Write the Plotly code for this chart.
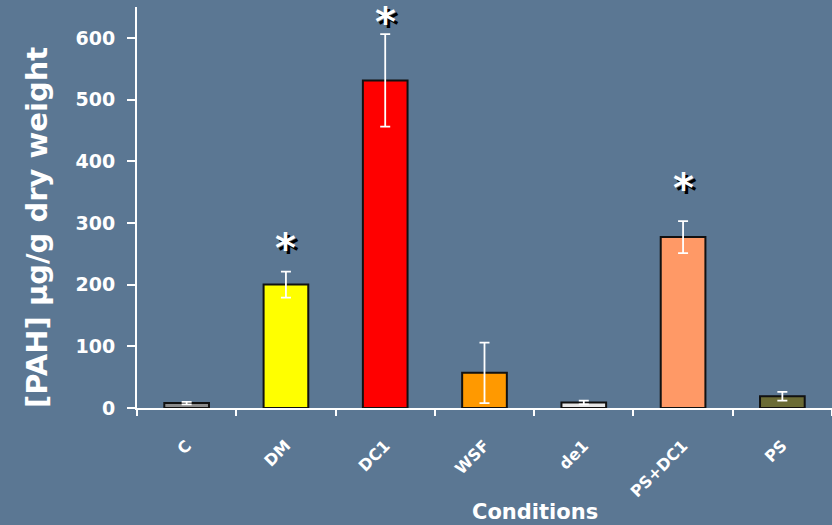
import plotly.graph_objects as go

categories = ["C", "DM", "DC1", "WSF", "de1", "PS+DC1", "PS"]
values = [8, 200, 531, 57, 9, 277, 19]
errors = [2, 21, 75, 49, 3, 26, 7]
colors = ["#8a8a8a", "#ffff00", "#ff0000", "#ff9900", "#e6e6e6", "#ff9966", "#6b6b35"]
star_y = [None, 266, 632, None, None, 363, None]
y_ticks = [0, 100, 200, 300, 400, 500, 600]

BG = "#5b7793"
FONT = "DejaVu Sans, sans-serif"

fig = go.Figure()
fig.add_trace(go.Bar(
    x=categories, y=values, width=0.45,
    marker=dict(color=colors, line=dict(color="#111111", width=2)),
    error_y=dict(type="data", array=errors, visible=True, color="white", thickness=1.8, width=5),
))

for cat, sy in zip(categories, star_y):
    if sy is None:
        continue
    fig.add_annotation(x=cat, y=sy, text="<b>*</b>", showarrow=False,
                       yanchor="middle", yshift=-4,
                       font=dict(family=FONT, size=40, color="white",
                                 shadow="3px 3px 0px black"))

# x-axis title
fig.add_annotation(xref="paper", yref="paper", x=(535 - 137) / 695, y=0,
                   yshift=-104, xanchor="center", yanchor="middle",
                   text="<b>Conditions</b>", showarrow=False,
                   font=dict(family=FONT, size=21, color="white"))
# y-axis title
fig.add_annotation(xref="paper", yref="paper", x=(37 - 137) / 695, y=(408 - 228) / 401,
                   xanchor="center", yanchor="middle", textangle=-90,
                   text="<b>[PAH] µg/g dry weight</b>", showarrow=False,
                   font=dict(family=FONT, size=29, color="white"))

fig.update_layout(
    width=832, height=525,
    paper_bgcolor=BG, plot_bgcolor=BG,
    margin=dict(l=137, r=0, t=7, b=117),
    showlegend=False,
    font=dict(family=FONT, color="white"),
)
fig.update_xaxes(
    showline=True, linecolor="white", linewidth=2,
    ticks="outside", tickson="boundaries", ticklen=6, tickcolor="white", tickwidth=1.5,
    tickangle=-45, tickfont=dict(family=FONT, size=16, color="white", weight="bold"),
    ticklabelstandoff=20,
    range=[-0.5, 6.5], showgrid=False,
)
fig.update_yaxes(
    range=[0, 650], showline=True, linecolor="white", linewidth=2,
    ticks="outside", ticklen=8, tickcolor="white", tickwidth=1.5,
    tickvals=y_ticks, tickfont=dict(family=FONT, size=19, color="white", weight="bold"),
    ticklabelstandoff=8,
    showgrid=False, zeroline=False,
)

fig.write_html("out.html", post_script="document.body.style.margin='0';",
               config={"displayModeBar": False})
